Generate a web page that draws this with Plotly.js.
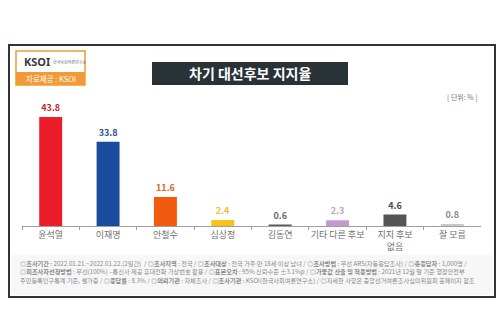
<!DOCTYPE html>
<html><head><meta charset="utf-8">
<script src="https://cdn.plot.ly/plotly-3.0.1.min.js"></script>
<style>html,body{margin:0;padding:0;background:#fff}#c{width:500px;height:333px}</style>
</head><body><div id="c"></div>
<script>
const categories = ['윤석열','이재명','안철수','심상정','김동연','기타 다른 후보','지지 후보<br>없음','잘 모름'];
const values = [43.8, 33.8, 11.6, 2.4, 0.6, 2.3, 4.6, 0.8];
const labels = ['43.8','33.8','11.6','2.4','0.6','2.3','4.6','0.8'];
const barColors = ['#ec1c2a','#1a4c9e','#f15a0f','#f7c21a','#5a5a5a','#c49ad0','#555555','#c8c8c8'];
const labelColors = ['#c8242f','#224f8e','#e0651c','#f0c030','#6a6a6a','#b8a2c0','#4a4a4a','#8a8a8a'];

const W=500,H=333;
const px = x => x/W, py = y => 1 - y/H;

const footer = [
 '◎<b>조사기간</b> : 2022.01.21.~2022.01.22.(2일간)  / ◎<b>조사지역</b> : 전국 / ◎<b>조사대상</b> : 전국 거주 만 18세 이상 남녀 / ◎<b>조사방법</b> : 무선 ARS(자동응답조사) / ◎<b>총응답자</b> : 1,000명 /',
 '◎<b>피조사자선정방법</b> : 무선(100%) –통신사 제공 휴대전화 가상번호 활용 / ◎<b>표본오차</b> : 95% 신뢰수준 ±3.1%p / ◎<b>가중값 산출 및 적용방법</b> : 2021년 12월 말 기준 행정안전부',
 '주민등록인구통계 기준, 셀가중 / ◎<b>응답률</b> : 8.3% / ◎<b>의뢰기관</b> : 자체조사 / ◎<b>조사기관</b> : KSOI(한국사회여론연구소) / ◎자세한 사항은 중앙선거여론조사심의위원회 홈페이지 참조'
];

const trace = {
  type:'bar', x:categories, y:values, width:0.4,
  marker:{color:barColors},
  text:labels, textposition:'outside', cliponaxis:false,
  textfont:{family:'Noto Sans CJK KR, Noto Sans', size:9, color:labelColors, weight:700},
  hoverinfo:'none'
};

const shapes = [
  {type:'rect', xref:'paper', yref:'paper', x0:px(9), x1:px(495), y0:py(297), y1:py(45), line:{color:'#2f3436', width:2}, fillcolor:'rgba(0,0,0,0)', layer:'below'},
  {type:'rect', xref:'paper', yref:'paper', x0:px(11), x1:px(493), y0:py(295), y1:py(255), line:{width:0}, fillcolor:'#f7f7f7', layer:'below'},
  {type:'rect', xref:'paper', yref:'paper', x0:px(16), x1:px(85), y0:py(85), y1:py(51), line:{color:'#f29a38', width:1.5}, fillcolor:'#ffffff', layer:'below'},
  {type:'rect', xref:'paper', yref:'paper', x0:px(16), x1:px(85), y0:py(85), y1:py(72), line:{width:0}, fillcolor:'#f29a38', layer:'below'},
  {type:'rect', xref:'paper', yref:'paper', x0:px(152), x1:px(348), y0:py(85), y1:py(62), line:{width:0}, fillcolor:'#283237', layer:'below'}
];

const annotations = [
  {xref:'paper', yref:'paper', x:px(250), y:py(73.5), text:'<b>차기 대선후보 지지율</b>', showarrow:false, font:{family:'Noto Sans CJK KR', size:14, color:'#ffffff'}, xanchor:'center', yanchor:'middle'},
  {xref:'paper', yref:'paper', x:px(22), y:py(61.5), text:'<b>KSOI</b>', showarrow:false, font:{family:'Noto Sans', size:11, color:'#3a3a3a'}, xanchor:'left', yanchor:'middle'},
  {xref:'paper', yref:'paper', x:px(51), y:py(61.5), text:'한국사회여론연구소', showarrow:false, font:{family:'Noto Sans CJK KR', size:4, color:'#666'}, xanchor:'left', yanchor:'middle'},
  {xref:'paper', yref:'paper', x:px(50.5), y:py(78.5), text:'자료제공 : KSOI', showarrow:false, font:{family:'Noto Sans CJK KR', size:7.5, color:'#ffffff'}, xanchor:'center', yanchor:'middle'},
  {xref:'paper', yref:'paper', x:px(480), y:py(97), text:'[ 단위: % ]', showarrow:false, font:{family:'Noto Sans CJK KR', size:7, color:'#777'}, xanchor:'right', yanchor:'middle'}
];
footer.forEach((t,i)=>annotations.push({xref:'paper', yref:'paper', x:px(18), y:py(263.5+i*8.3), text:t, showarrow:false, font:{family:'Noto Sans CJK KR', size:6.2, color:'#8a8a8a'}, xanchor:'left', yanchor:'middle'}));

const layout = {
  width:W, height:H, margin:{l:0,r:0,t:0,b:0},
  paper_bgcolor:'#ffffff', plot_bgcolor:'rgba(0,0,0,0)',
  showlegend:false, bargap:0.6,
  xaxis:{domain:[px(22),px(481)], showline:true, linecolor:'#a0a0a0', linewidth:1, tickangle:0,
    ticks:'outside', tickson:'boundaries', ticklen:3, tickcolor:'#a0a0a0',
    tickfont:{family:'Noto Sans CJK KR', size:9, color:'#707070'}, showgrid:false, zeroline:false, fixedrange:true},
  yaxis:{domain:[py(226), py(101.5)], range:[0,50], visible:false, showgrid:false, zeroline:false, fixedrange:true},
  shapes:shapes, annotations:annotations
};
Plotly.newPlot('c',[trace],layout,{displayModeBar:false,staticPlot:true});
</script></body></html>
